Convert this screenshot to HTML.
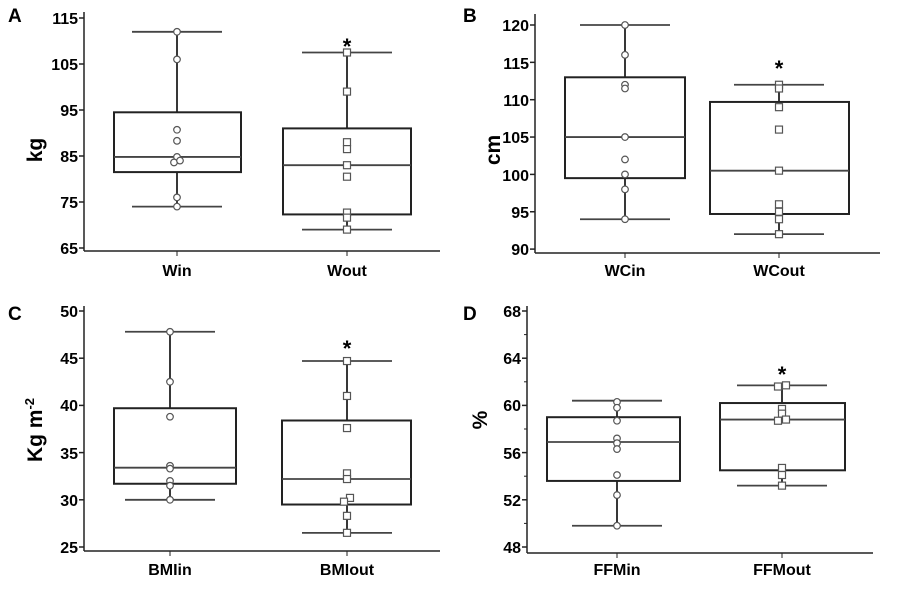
<!DOCTYPE html>
<html><head><meta charset="utf-8"><style>
body{margin:0;background:#fff}
svg{display:block;font-family:"Liberation Sans",Arial,sans-serif;font-weight:bold}
.t{font-size:16px;text-anchor:end}
.x{font-size:16px;text-anchor:middle}
.p{font-size:19px}
.y{font-size:21px;text-anchor:middle}
.s{font-size:22px;text-anchor:middle}
</style></head><body>
<svg id="s" width="900" height="592" viewBox="0 0 900 592">
<text class="p" x="8" y="22">A</text>
<text class="p" x="463" y="22">B</text>
<text class="p" x="8" y="320">C</text>
<text class="p" x="463" y="320">D</text>
<g class="t">
<text x="78" y="24">115</text><text x="78" y="70">105</text><text x="78" y="116">95</text><text x="78" y="162">85</text><text x="78" y="208">75</text><text x="78" y="254">65</text>
<text x="529" y="31">120</text><text x="529" y="69">115</text><text x="529" y="106">110</text><text x="529" y="143">105</text><text x="529" y="181">100</text><text x="529" y="218">95</text><text x="529" y="255">90</text>
<text x="78" y="317">50</text><text x="78" y="364">45</text><text x="78" y="411">40</text><text x="78" y="459">35</text><text x="78" y="506">30</text><text x="78" y="553">25</text>
<text x="521" y="317">68</text><text x="521" y="364">64</text><text x="521" y="411">60</text><text x="521" y="459">56</text><text x="521" y="506">52</text><text x="521" y="553">48</text>
</g>
<g class="x">
<text x="177" y="276">Win</text><text x="347" y="276">Wout</text>
<text x="625" y="276">WCin</text><text x="779" y="276">WCout</text>
<text x="170" y="575">BMIin</text><text x="347" y="575">BMIout</text>
<text x="617" y="575">FFMin</text><text x="782" y="575">FFMout</text>
</g>
<text class="y" transform="translate(42,150) rotate(-90)">kg</text>
<text class="y" transform="translate(500,150) rotate(-90)">cm</text>
<text class="y" transform="translate(42,430) rotate(-90)">Kg m<tspan font-size="13" dy="-8">-2</tspan></text>
<text class="y" transform="translate(487,420) rotate(-90)">%</text>
<text class="s" x="347" y="54">*</text>
<text class="s" x="779" y="76">*</text>
<text class="s" x="347" y="356">*</text>
<text class="s" x="782" y="382">*</text>
</svg>
<script>
const NS="http://www.w3.org/2000/svg",S=document.getElementById('s');
function el(t,a){const e=document.createElementNS(NS,t);for(const k in a)e.setAttribute(k,a[k]);S.appendChild(e);return e;}
function line(x1,y1,x2,y2,w,c){el('line',{x1,y1,x2,y2,stroke:c||'#222','stroke-width':w||1.5});}
function panel(p){
 const Y=v=>p.y0+(p.v0-v)*p.k;
 line(p.ax,p.top,p.ax,p.bot,1.5);line(p.ax,p.bot,p.right,p.bot,1.5);
 p.ticks.forEach(v=>line(p.ax-5,Y(v),p.ax,Y(v),1.5));
 (p.minor||[]).forEach(v=>line(p.ax-3,Y(v),p.ax,Y(v),1));
 p.boxes.forEach(b=>{
  line(b.c,p.bot,b.c,p.bot+5,1);
  line(b.c,Y(b.wt),b.c,Y(b.wb),1.8);
  line(b.c-45,Y(b.wt),b.c+45,Y(b.wt),1.8,'#444');
  line(b.c-45,Y(b.wb),b.c+45,Y(b.wb),1.8,'#444');
  el('rect',{x:b.l,y:Y(b.q3),width:b.r-b.l,height:Y(b.q1)-Y(b.q3),fill:'#fff',stroke:'#222','stroke-width':2});
  line(b.l,Y(b.m),b.r,Y(b.m),1.8,'#444');
  b.pts.forEach(q=>{const v=q[0],dx=q[1]||0;
   if(b.sq)el('rect',{x:b.c+dx-3.5,y:Y(v)-3.5,width:7,height:7,fill:'#fff',stroke:'#555','stroke-width':1.2});
   else el('circle',{cx:b.c+dx,cy:Y(v),r:3.3,fill:'#fff',stroke:'#555','stroke-width':1.2});});
 });
}
panel({ax:84,top:12,bot:251,right:440,y0:18,v0:115,k:4.6,ticks:[115,105,95,85,75,65],boxes:[
 {c:177,l:114,r:241,wt:112,wb:74,q3:94.5,q1:81.5,m:84.8,pts:[[112],[106],[90.7],[88.3],[84.8],[83.6,-3],[84,3],[76],[74]]},
 {c:347,l:283,r:411,wt:107.5,wb:69,q3:91,q1:72.3,m:83,sq:1,pts:[[107.5],[99],[88],[86.5],[83],[80.5],[72.7],[71.6],[69]]}]});
panel({ax:535,top:14,bot:253,right:880,y0:25,v0:120,k:7.47,ticks:[120,115,110,105,100,95,90],boxes:[
 {c:625,l:565,r:685,wt:120,wb:94,q3:113,q1:99.5,m:105,pts:[[120],[116],[112],[111.5],[105],[102],[100],[98],[94]]},
 {c:779,l:710,r:849,wt:112,wb:92,q3:109.7,q1:94.7,m:100.5,sq:1,pts:[[112],[111.5],[109],[106],[100.5],[96],[95],[94],[92]]}]});
panel({ax:84,top:306,bot:551,right:440,y0:311,v0:50,k:9.44,ticks:[50,45,40,35,30,25],boxes:[
 {c:170,l:114,r:236,wt:47.8,wb:30,q3:39.7,q1:31.7,m:33.4,pts:[[47.8],[42.5],[38.8],[33.6],[33.3],[32],[31.5],[30]]},
 {c:347,l:282,r:411,wt:44.7,wb:26.5,q3:38.4,q1:29.5,m:32.2,sq:1,pts:[[44.7],[41],[37.6],[32.8],[32.2],[30.2,3],[29.8,-3],[28.3],[26.5]]}]});
panel({ax:527,top:306,bot:553,right:873,y0:311,v0:68,k:11.8,ticks:[68,64,60,56,52,48],minor:[66,62,58,54,50],boxes:[
 {c:617,l:547,r:680,wt:60.4,wb:49.8,q3:59,q1:53.6,m:56.9,pts:[[60.3],[59.8],[58.7],[57.2],[56.8],[56.3],[54.1],[52.4],[49.8]]},
 {c:782,l:720,r:845,wt:61.7,wb:53.2,q3:60.2,q1:54.5,m:58.8,sq:1,pts:[[61.7,4],[61.6,-4],[59.7],[59.3],[58.7,-4],[58.8,4],[54.7],[54.1],[53.2]]}]});
</script>
</body></html>
